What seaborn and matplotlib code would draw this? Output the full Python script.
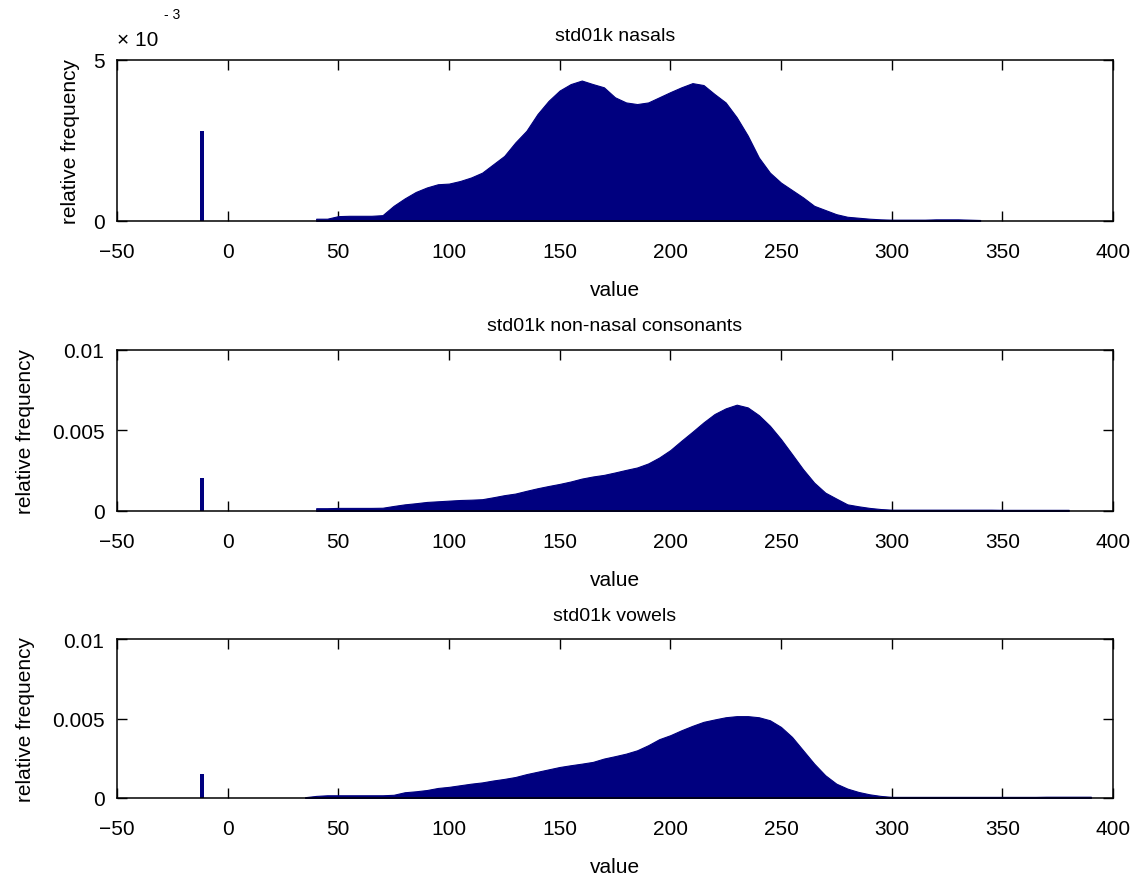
import numpy as np
import pandas as pd
import seaborn as sns
import matplotlib.pyplot as plt

# ----- data (relative frequency, in units of 1e-3) -----
titles = ['std01k nasals', 'std01k non-nasal consonants', 'std01k vowels']

nasal_x = np.arange(40, 341, 5)
nasal_f = [0.07, 0.07, 0.15, 0.16, 0.16, 0.16, 0.18, 0.47, 0.70, 0.90,
           1.04, 1.14, 1.16, 1.24, 1.35, 1.50, 1.76, 2.02, 2.44, 2.80,
           3.32, 3.73, 4.05, 4.25, 4.36, 4.25, 4.15, 3.84, 3.68, 3.63,
           3.68, 3.84, 4.00, 4.15, 4.28, 4.22, 3.94, 3.68, 3.22, 2.65,
           1.97, 1.50, 1.19, 0.96, 0.73, 0.47, 0.34, 0.21, 0.13, 0.10,
           0.07, 0.05, 0.04, 0.04, 0.04, 0.04, 0.05, 0.05, 0.05, 0.04,
           0.03]

cons_x = np.arange(40, 381, 5)
cons_f = [0.17, 0.17, 0.19, 0.19, 0.19, 0.19, 0.20, 0.31, 0.41, 0.48,
          0.56, 0.60, 0.64, 0.68, 0.70, 0.73, 0.85, 0.98, 1.08, 1.25,
          1.41, 1.55, 1.68, 1.83, 2.01, 2.14, 2.24, 2.39, 2.55, 2.70,
          2.95, 3.32, 3.78, 4.36, 4.92, 5.50, 6.02, 6.37, 6.60, 6.43,
          5.95, 5.29, 4.46, 3.53, 2.59, 1.76, 1.14, 0.77, 0.41, 0.29,
          0.19, 0.12, 0.08, 0.08, 0.08, 0.08, 0.08, 0.08, 0.08, 0.08,
          0.08, 0.08, 0.07, 0.07, 0.07, 0.07, 0.07, 0.07, 0.07]

vowel_x = np.arange(35, 391, 5)
vowel_f = [0.05, 0.13, 0.17, 0.17, 0.17, 0.17, 0.17, 0.17, 0.20, 0.36,
           0.42, 0.50, 0.63, 0.70, 0.80, 0.90, 0.98, 1.10, 1.20, 1.32,
           1.50, 1.65, 1.80, 1.95, 2.06, 2.16, 2.27, 2.48, 2.63, 2.79,
           3.00, 3.32, 3.70, 3.95, 4.26, 4.54, 4.79, 4.94, 5.08, 5.15,
           5.15, 5.08, 4.89, 4.47, 3.84, 3.00, 2.16, 1.43, 0.90, 0.59,
           0.38, 0.23, 0.13, 0.07, 0.07, 0.07, 0.07, 0.07, 0.07, 0.07,
           0.07, 0.07, 0.07, 0.07, 0.07, 0.07, 0.07, 0.08, 0.08, 0.08,
           0.08, 0.08]

spike_x = -11.5
spike_f = [2.80, 2.03, 1.53]

series = [(nasal_x, nasal_f), (cons_x, cons_f), (vowel_x, vowel_f)]

# ----- style -----
navy = '#00007f'
sns.set_style('ticks')
plt.rcParams['font.family'] = ['Liberation Sans', 'DejaVu Sans']
plt.rcParams['text.color'] = 'black'
plt.rcParams['axes.labelcolor'] = 'black'
plt.rcParams['xtick.color'] = 'black'
plt.rcParams['ytick.color'] = 'black'
plt.rcParams['axes.edgecolor'] = 'black'

fig = plt.figure(figsize=(11.4, 8.78), dpi=100)
positions = [[0.1026, 0.7472, 0.8737, 0.1834],
             [0.1026, 0.4169, 0.8737, 0.1834],
             [0.1026, 0.0900, 0.8737, 0.1810]]

for i, (x, f) in enumerate(series):
    ax = fig.add_axes(positions[i])
    df = pd.DataFrame({'value': x, 'freq': np.array(f) * 1e-3})
    edges = [float(e) for e in np.append(x - 2.5, x[-1] + 2.5)]
    sns.histplot(data=df, x='value', weights='freq', bins=edges,
                 element='poly', fill=True, color=navy, alpha=1,
                 linewidth=0.8, ax=ax)
    sns.histplot(x=[spike_x], weights=[spike_f[i] * 1e-3],
                 bins=[spike_x - 1, spike_x + 1], color=navy, alpha=1,
                 edgecolor=navy, linewidth=0, ax=ax)

    ax.set_xlim(-50, 400)
    ax.set_xticks(np.arange(-50, 401, 50))
    if i == 0:
        ax.set_ylim(0, 0.005)
        ax.set_yticks([0, 0.005])
        ax.set_yticklabels(['0', '5'])
        ax.text(0.0, 1.07, '× 10', transform=ax.transAxes, fontsize=15,
                ha='left', va='bottom')
        ax.text(0.047, 1.24, '- 3', transform=ax.transAxes, fontsize=10,
                ha='left', va='bottom')
        ypad = 9
    else:
        ax.set_ylim(0, 0.01)
        ax.set_yticks([0, 0.005, 0.01])
        ax.set_yticklabels(['0', '0.005', '0.01'])
        ypad = 12

    ax.tick_params(direction='in', top=True, right=True, length=7,
                   width=1, labelsize=15)
    ax.tick_params(axis='x', pad=15)
    ax.tick_params(axis='y', pad=9)
    for s in ax.spines.values():
        s.set_linewidth(1.1)
        s.set_visible(True)
    ax.set_xlabel('value', fontsize=15, labelpad=14)
    ax.set_ylabel('relative frequency', fontsize=15, labelpad=ypad)
    ax.set_title(titles[i], fontsize=14, pad=14)

plt.savefig('out.png', dpi=100)
